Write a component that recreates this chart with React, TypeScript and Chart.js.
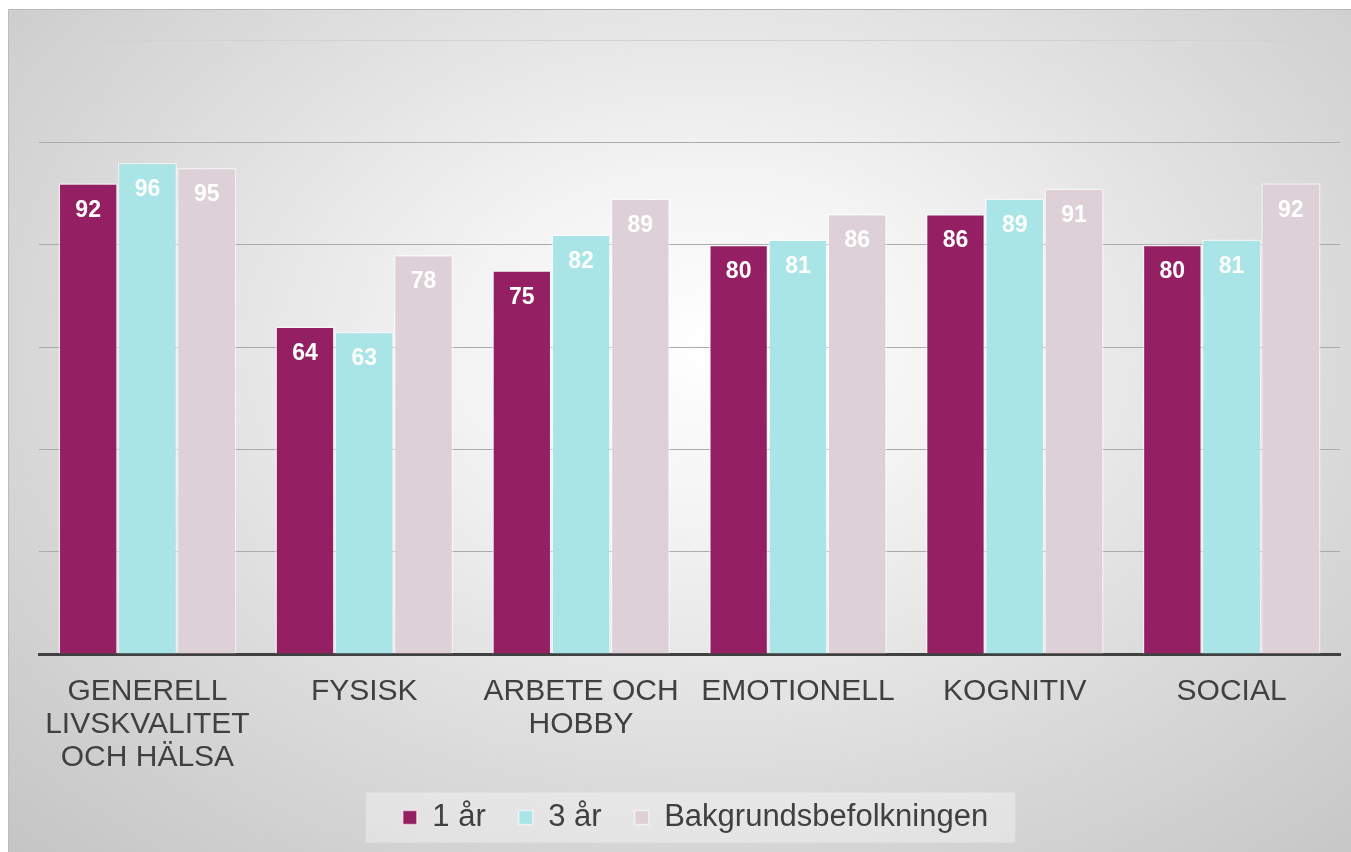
import React, { useEffect, useRef } from "react";
import { Chart, registerables } from "chart.js";

Chart.register(...registerables);

const categories: (string | string[])[] = [
  ["GENERELL", "LIVSKVALITET", "OCH HÄLSA"],
  "FYSISK",
  ["ARBETE OCH", "HOBBY"],
  "EMOTIONELL",
  "KOGNITIV",
  "SOCIAL",
];
const seriesNames = ["1 år", "3 år", "Bakgrundsbefolkningen"];
const oneYear = [92, 64, 75, 80, 86, 80];
const threeYears = [96, 63, 82, 81, 89, 81];
const population = [95, 78, 89, 86, 91, 92];
const yMin = 0;
const yMax = 120;
const yStep = 20;

const FONT = "'Liberation Sans', Arial, Helvetica, sans-serif";

const valueLabels = {
  id: "valueLabels",
  afterDatasetsDraw(chart: any) {
    const ctx = chart.ctx;
    ctx.save();
    ctx.font = `bold 23px ${FONT}`;
    ctx.fillStyle = "#ffffff";
    ctx.textAlign = "center";
    ctx.textBaseline = "middle";
    chart.data.datasets.forEach((ds: any, i: number) => {
      const meta = chart.getDatasetMeta(i);
      meta.data.forEach((bar: any, j: number) => {
        ctx.fillText(String(ds.data[j]), bar.x, bar.y + 27);
      });
    });
    ctx.restore();
  },
};

const legendShift = {
  id: "legendShift",
  afterLayout(chart: any) {
    const lg = chart.legend;
    if (!lg) return;
    lg.left += 6;
    lg.right += 6;
  },
};

const legendBg = {
  id: "legendBg",
  beforeDraw(chart: any) {
    const lg = chart.legend;
    if (!lg || !lg.legendHitBoxes || !lg.legendHitBoxes.length) return;
    const boxes = lg.legendHitBoxes;
    let l = Infinity, r = -Infinity, cy = 0;
    boxes.forEach((b: any) => {
      l = Math.min(l, b.left);
      r = Math.max(r, b.left + b.width);
      cy = b.top + b.height / 2;
    });
    const ctx = chart.ctx;
    ctx.save();
    ctx.fillStyle = "rgba(255,255,255,0.35)";
    ctx.fillRect(l - 37, cy - 25, r - l + 64, 50);
    ctx.restore();
  },
};

export default function App() {
  const ref = useRef<HTMLCanvasElement | null>(null);
  useEffect(() => {
    if (!ref.current) return;
    const chart = new Chart(ref.current, {
      type: "bar",
      data: {
        labels: categories,
        datasets: [
          { label: seriesNames[0], data: oneYear, backgroundColor: "#951F63" },
          { label: seriesNames[1], data: threeYears, backgroundColor: "#A9E4E7" },
          { label: seriesNames[2], data: population, backgroundColor: "#DDD0D6" },
        ].map((d) => ({
          ...d,
          borderColor: "rgba(255,255,255,0.55)",
          borderWidth: 1.5,
          categoryPercentage: 0.82,
          barPercentage: 1.0,
        })),
      },
      options: {
        animation: false,
        responsive: false,
        maintainAspectRatio: false,
        layout: { padding: { left: 30, right: 11, top: 30, bottom: 9 } },
        plugins: {
          legend: {
            position: "bottom",
            labels: {
              font: { family: FONT, size: 31 },
              color: "#404040",
              boxWidth: 14,
              boxHeight: 14,
              padding: 33,
            },
          },
          tooltip: { enabled: false },
        },
        scales: {
          x: {
            grid: { display: false },
            border: { display: true, color: "#404040", width: 3 },
            ticks: {
              font: { family: FONT, size: 30, lineHeight: 1.1 },
              color: "#404040",
              maxRotation: 0,
              autoSkip: false,
              padding: 13,
            },
            afterFit: (axis: any) => {
              axis.height -= 18;
            },
          },
          y: {
            min: yMin,
            max: yMax,
            ticks: { display: false, stepSize: yStep },
            border: { display: false },
            grid: {
              drawTicks: false,
              color: (c: any) => (c.tick && c.tick.value === yMax ? "#d2d2d2" : "#ababab"),
              lineWidth: 1,
            },
          },
        },
      },
      plugins: [legendShift, legendBg, valueLabels],
    });
    return () => chart.destroy();
  }, []);

  return (
    <div
      style={{
        position: "absolute",
        left: 8,
        top: 9,
        width: 1343,
        height: 843,
        boxSizing: "border-box",
        borderTop: "1px solid #b8b8b8",
        borderLeft: "1px solid #bcbcbc",
        background:
          "radial-gradient(ellipse 75% 85% at 52% 40%, #ffffff 0%, #f3f3f3 25%, #dcdcdc 60%, #c4c4c4 100%)",
        overflow: "hidden",
      }}
    >
      <canvas ref={ref} width={1342} height={842} style={{ display: "block" }} />
    </div>
  );
}
